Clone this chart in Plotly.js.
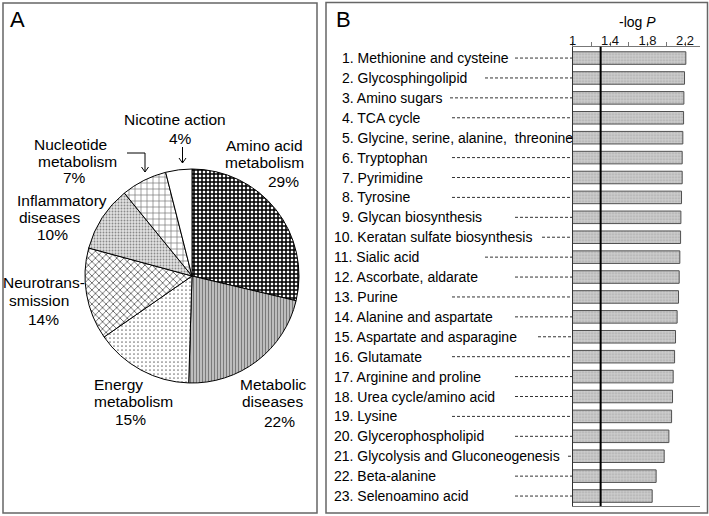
<!DOCTYPE html>
<html><head><meta charset="utf-8">
<script src="https://cdn.plot.ly/plotly-3.0.1.min.js"></script>
<style>html,body{margin:0;padding:0;background:#fff}#chart{width:709px;height:516px}</style>
</head><body><div id="chart"></div>
<script>
// ---------- DATA ----------
const pieLabels = ['Amino acid metabolism','Metabolic diseases','Energy metabolism','Neurotransmission','Inflammatory diseases','Nucleotide metabolism','Nicotine action'];
const pieDisplay = ['Amino acid\nmetabolism','Metabolic\ndiseases','Energy\nmetabolism','Neurotrans-\nsmission','Inflammatory\ndiseases','Nucleotide\nmetabolism','Nicotine action'];
const piePercents = [29,22,15,14,10,7,4];

const pathways = ['Methionine and cysteine','Glycosphingolipid','Amino sugars','TCA cycle','Glycine, serine, alanine,\u00a0 threonine','Tryptophan','Pyrimidine','Tyrosine','Glycan biosynthesis','Keratan sulfate biosynthesis','Sialic acid','Ascorbate, aldarate','Purine','Alanine and aspartate','Aspartate and asparagine','Glutamate','Arginine and proline','Urea cycle/amino acid','Lysine','Glycerophospholipid','Glycolysis and Gluconeogenesis','Beta-alanine','Selenoamino acid'];
const negLogP = [2.209,2.195,2.188,2.185,2.177,2.170,2.170,2.163,2.156,2.153,2.145,2.138,2.131,2.116,2.099,2.089,2.074,2.067,2.057,2.028,1.978,1.892,1.850];
const tickVals = [1,1.2,1.4,1.6,1.8,2.0,2.2];
const tickText = ['1','','1.4','','1.8','','2.2'];
const threshold = 1.3;

// ---------- LAYOUT HELPERS ----------
const W = 709, H = 516;
const px = x => x / W;
const py = y => 1 - y / H;
const FONT = 'Arial, "Liberation Sans", sans-serif';

// label line positions (pixel centres) for pie labels, one list per slice: name lines then percent
const pieLabelPos = [
  [[264,145],[264,162],[283,182]],
  [[273,384],[272,401],[279,421]],
  [[118,384],[133,401],[130,419]],
  [[44,282],[39,300],[43,319]],
  [[62,200],[49,217],[52,235]],
  [[70,144],[77,161],[74,178]],
  [[175,120],[180,138]]
];
// x pixel where each leader line starts
const leaderStartPx = [515,485,450,452,568,452,452,452,515,542,485,515,452,515,538,452,515,515,452,515,568,515,515];
const axisLeftPx = 572.5;

const annotations = [];
pieDisplay.forEach((lab, i) => {
  const lines = lab.split('\n').concat([piePercents[i] + '%']);
  lines.forEach((t, j) => {
    const p = pieLabelPos[i][j];
    annotations.push({text: t, xref:'paper', yref:'paper', x: px(p[0]), y: py(p[1]),
      xanchor:'center', yanchor:'middle', showarrow:false, font:{family:FONT, size:15.5, color:'#000'}});
  });
});
pathways.forEach((name, i) => {
  annotations.push({text: (i+1) + '. ' + name, xref:'paper', yref:'y', x: px(i < 9 ? 340 : 332), y: i,
    xanchor:'left', yanchor:'middle', showarrow:false, font:{family:FONT, size:14, color:'#000'}});
});
annotations.push({text:'A', xref:'paper', yref:'paper', x:px(17.5), y:py(20), xanchor:'center', yanchor:'middle', showarrow:false, font:{family:FONT, size:22, color:'#000'}});
annotations.push({text:'B', xref:'paper', yref:'paper', x:px(343), y:py(20), xanchor:'center', yanchor:'middle', showarrow:false, font:{family:FONT, size:22, color:'#000'}});
annotations.push({text:'-log <i>P</i>', xref:'paper', yref:'paper', x:px(637), y:py(22), xanchor:'center', yanchor:'middle', showarrow:false, font:{family:FONT, size:14, color:'#000'}});

const shapes = [
  {type:'rect', xref:'paper', yref:'paper', x0:px(3), x1:px(317), y0:py(3), y1:py(513), line:{color:'#666', width:1.5}},
  {type:'rect', xref:'paper', yref:'paper', x0:px(326), x1:px(707.5), y0:py(2.5), y1:py(513), line:{color:'#666', width:1.5}},
  {type:'line', xref:'x', yref:'y domain', x0:threshold, x1:threshold, y0:0, y1:1, line:{color:'#000', width:2}},
  // arrows
  {type:'path', xref:'paper', yref:'paper', path:`M${px(182.5)},${py(147)} L${px(182.5)},${py(163)} M${px(179)},${py(158)} L${px(182.5)},${py(163)} L${px(186)},${py(158)}`, line:{color:'#000', width:1}},
  {type:'path', xref:'paper', yref:'paper', path:`M${px(127)},${py(153)} L${px(145)},${py(153)} L${px(145)},${py(172)} M${px(141.5)},${py(167)} L${px(145)},${py(172)} L${px(148.5)},${py(167)}`, line:{color:'#000', width:1}}
];
pathways.forEach((name, i) => {
  shapes.push({type:'line', xref:'paper', yref:'y', x0:px(leaderStartPx[i]), x1:px(axisLeftPx), y0:i, y1:i,
    line:{color:'#333', width:1, dash:'3px,2px'}});
});

const pieTrace = {
  type:'pie', values: piePercents, labels: pieLabels, sort:false, direction:'clockwise', rotation:0,
  textinfo:'none', hoverinfo:'none', showlegend:false,
  domain:{x:[px(192-107), px(192+107)], y:[py(276+107), py(276-107)]},
  marker:{
    colors:['#ffffff','#bdbdbd','#ffffff','#ffffff','#dcdcdc','#ffffff','#ffffff'],
    line:{color:'#000', width:1},
    pattern:{
      shape:['+','|','.','x','.','+',''],
      fgcolor:['#000000','#7a7a7a','#777777','#333333','#8a8a8a','#777777','#ffffff'],
      bgcolor:['#ffffff','#c4c4c4','#ffffff','#ffffff','#e2e2e2','#ffffff','#ffffff'],
      size:[4,3,4,5,3,6,8],
      solidity:[0.62,0.4,0.15,0.25,0.3,0.22,0.1],
      fillmode:'replace'
    }
  }
};

const barTrace = {
  type:'bar', orientation:'h', x: negLogP, y: pathways.map((_, i) => i), width:0.63,
  hoverinfo:'none', showlegend:false,
  marker:{color:'#c8c8c8', line:{color:'#505050', width:1},
    pattern:{shape:'.', fgcolor:'#a9a9a9', bgcolor:'#cfcfcf', size:3, solidity:0.3, fillmode:'replace'}}
};

const layout = {
  width:W, height:H, margin:{l:0, r:0, t:0, b:0}, paper_bgcolor:'#fff', plot_bgcolor:'rgba(0,0,0,0)',
  font:{family:FONT, color:'#000'},
  xaxis:{domain:[px(axisLeftPx), px(700)], range:[1, 2.36], side:'top', showline:true, linecolor:'#777', linewidth:1, mirror:true,
    ticks:'outside', ticklen:4, tickcolor:'#777', tickvals:tickVals, ticktext:tickText,
    tickfont:{family:FONT, size:13, color:'#111'}, showgrid:false, zeroline:false, fixedrange:true, ticklabelstandoff:-8},
  yaxis:{domain:[py(506), py(46.7)], range:[22.5, -0.57], showline:true, linecolor:'#333', linewidth:1,
    showticklabels:false, ticks:'', showgrid:false, zeroline:false, fixedrange:true},
  annotations, shapes, bargap:0.37
};

Plotly.newPlot('chart', [pieTrace, barTrace], layout, {staticPlot:true, displayModeBar:false});
</script></body></html>
